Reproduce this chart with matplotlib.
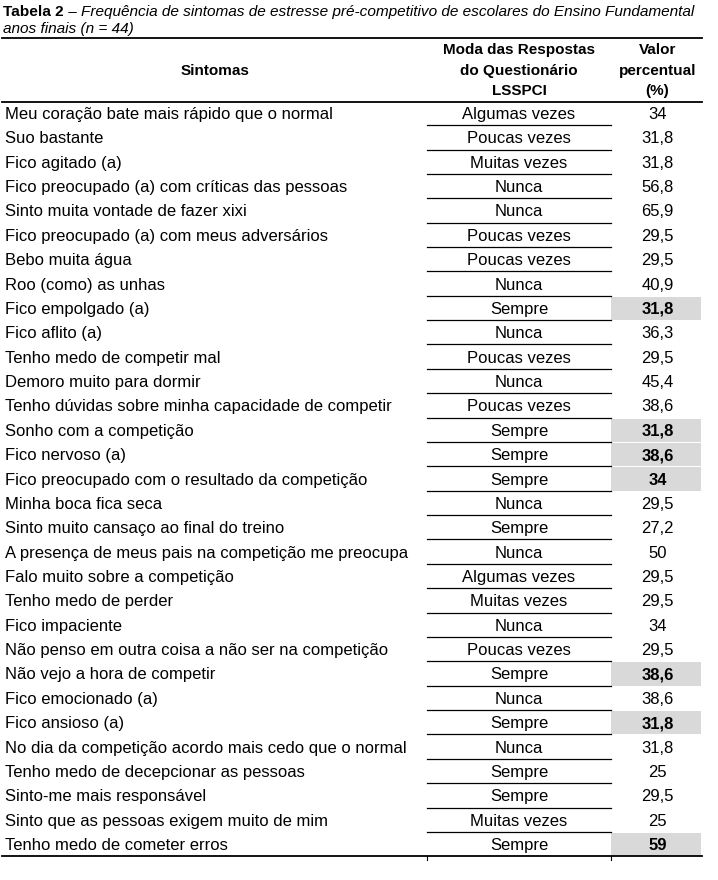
import matplotlib.pyplot as plt
from matplotlib.patches import Rectangle

# --- Table data ---
sintomas = [
    "Meu coração bate mais rápido que o normal",
    "Suo bastante",
    "Fico agitado (a)",
    "Fico preocupado (a) com críticas das pessoas",
    "Sinto muita vontade de fazer xixi",
    "Fico preocupado (a) com meus adversários",
    "Bebo muita água",
    "Roo (como) as unhas",
    "Fico empolgado (a)",
    "Fico aflito (a)",
    "Tenho medo de competir mal",
    "Demoro muito para dormir",
    "Tenho dúvidas sobre minha capacidade de competir",
    "Sonho com a competição",
    "Fico nervoso (a)",
    "Fico preocupado com o resultado da competição",
    "Minha boca fica seca",
    "Sinto muito cansaço ao final do treino",
    "A presença de meus pais na competição me preocupa",
    "Falo muito sobre a competição",
    "Tenho medo de perder",
    "Fico impaciente",
    "Não penso em outra coisa a não ser na competição",
    "Não vejo a hora de competir",
    "Fico emocionado (a)",
    "Fico ansioso (a)",
    "No dia da competição acordo mais cedo que o normal",
    "Tenho medo de decepcionar as pessoas",
    "Sinto-me mais responsável",
    "Sinto que as pessoas exigem muito de mim",
    "Tenho medo de cometer erros",
]
moda = [
    "Algumas vezes", "Poucas vezes", "Muitas vezes", "Nunca", "Nunca",
    "Poucas vezes", "Poucas vezes", "Nunca", "Sempre", "Nunca",
    "Poucas vezes", "Nunca", "Poucas vezes", "Sempre", "Sempre",
    "Sempre", "Nunca", "Sempre", "Nunca", "Algumas vezes",
    "Muitas vezes", "Nunca", "Poucas vezes", "Sempre", "Nunca",
    "Sempre", "Nunca", "Sempre", "Sempre", "Muitas vezes", "Sempre",
]
percentual = [
    "34", "31,8", "31,8", "56,8", "65,9", "29,5", "29,5", "40,9", "31,8", "36,3",
    "29,5", "45,4", "38,6", "31,8", "38,6", "34", "29,5", "27,2", "50", "29,5",
    "29,5", "34", "29,5", "38,6", "38,6", "31,8", "31,8", "25", "29,5", "25", "59",
]
destaque = [8, 13, 14, 15, 23, 25, 30]  # rows with bold, shaded value

titulo_bold = "Tabela 2"
titulo_resto = " – Frequência de sintomas de estresse pré-competitivo de escolares do Ensino Fundamental"
titulo_linha2 = "anos finais (n = 44)"
cab_sintomas = "Sintomas"
cab_moda = ["Moda das Respostas", "do Questionário", "LSSPCI"]
cab_valor = ["Valor", "percentual", "(%)"]

# --- Layout (pixels) ---
W, H = 718, 880
narrow = ["Liberation Sans Narrow", "Liberation Sans"]
body = ["Liberation Sans", "DejaVu Sans"]

fig = plt.figure(figsize=(W / 100, H / 100), dpi=100)
ax = fig.add_axes([0, 0, 1, 1])
ax.set_xlim(0, W)
ax.set_ylim(H, 0)
ax.axis("off")

row_top = 100.8
row_h = 24.37
x_left, x_right = 2, 702
x_mid0, x_mid1 = 427, 611
x_mid_c = (x_mid0 + x_mid1) / 2
x_val_c = (x_mid1 + x_right) / 2 + 1
fs_title = 11.1
fs_head = 11

# title
t1 = ax.text(3, 12, titulo_bold, fontsize=fs_title, fontweight="bold", family=narrow,
             va="center", ha="left")
ax.annotate(titulo_resto, xy=(1, 0), xycoords=t1, va="bottom", ha="left",
            fontsize=fs_title, style="italic", family=narrow)
ax.text(3, 29, titulo_linha2, fontsize=fs_title, style="italic", family=narrow,
        va="center", ha="left")

# header
ax.plot([x_left, x_right], [38.5, 38.5], color="black", lw=1.3)
ax.text(215, 71, cab_sintomas, fontsize=fs_head, fontweight="bold", family=narrow,
        ha="center", va="center")
for k, y in enumerate([50, 71, 91]):
    ax.text(x_mid_c, y, cab_moda[k], fontsize=fs_head, fontweight="bold",
            family=narrow, ha="center", va="center")
    ax.text(x_val_c, y, cab_valor[k], fontsize=fs_head, fontweight="bold",
            family=narrow, ha="center", va="center")
ax.plot([x_left, x_right], [row_top + 1.5, row_top + 1.5], color="black", lw=1.3)

# rows
for i, (s, m, v) in enumerate(zip(sintomas, moda, percentual)):
    top = row_top + i * row_h
    yc = top + row_h / 2 + 1.5
    if i in destaque:
        ax.add_patch(Rectangle((x_mid1, top + 1), x_right - 1 - x_mid1, row_h - 1,
                               facecolor="#d9d9d9", edgecolor="none", zorder=0))
    ax.text(5, yc, s, fontsize=12, family=body, ha="left", va="center")
    ax.text(x_mid_c, yc, m, fontsize=12, family=body, ha="center", va="center")
    ax.text(x_val_c, yc, v, fontsize=12, family=body, ha="center", va="center",
            fontweight="bold" if i in destaque else "normal")
    if i < len(sintomas) - 1:
        yb = top + row_h
        ax.plot([x_mid0, x_mid1], [yb, yb], color="black", lw=0.9)

y_bot = row_top + len(sintomas) * row_h
ax.plot([x_left, x_right], [y_bot, y_bot], color="black", lw=1.3)
for xv in (x_mid0, x_mid1):
    ax.plot([xv, xv], [y_bot, y_bot + 4], color="black", lw=0.8)

plt.savefig("out.png", dpi=100)
